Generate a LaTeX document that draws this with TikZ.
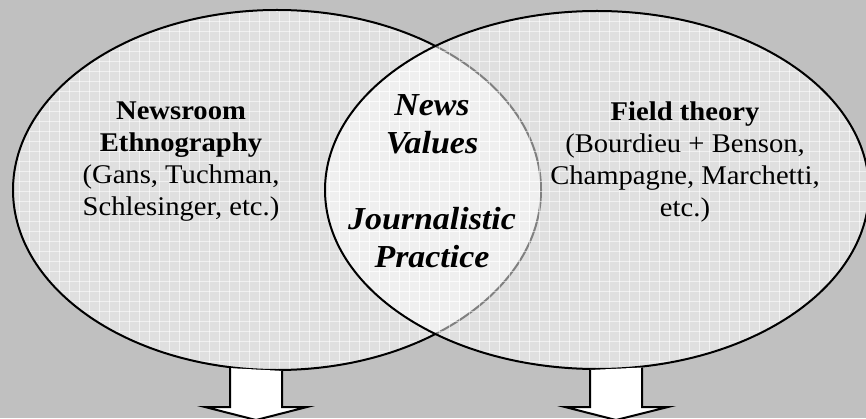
\documentclass[tikz,border=0pt]{standalone}
\usepackage{fontspec}
\setmainfont[FakeStretch=1.06]{Liberation Serif}

\definecolor{backgray}{RGB}{192,192,192}

\tikzset{
  bubblefill/.style={fill=white, fill opacity=0.5},
  bubbleline/.style={draw=black, line width=1pt},
  gridline/.style={white, line width=0.5pt, opacity=0.55},
  blocktext/.style={align=center, inner sep=0pt, font=\fontsize{13.5}{16}\selectfont},
  coretext/.style={align=center, inner sep=0pt, font=\fontsize{16}{19}\selectfont\bfseries\itshape},
  downarrow/.style={draw=black, fill=white, line width=1pt, line join=miter}
}

\newcommand{\bubblegrid}{%
  \foreach \x in {9,19,...,859} \draw[gridline] (\x,0) -- (\x,418);
  \foreach \y in {6.5,16.5,...,416.5} \draw[gridline] (0,\y) -- (866,\y);
}

\begin{document}
\begin{tikzpicture}[x=0.5pt, y=0.5pt]
\fill[backgray] (0,0) rectangle (866,418);
\useasboundingbox (0,0) rectangle (866,418);

% newsroom ethnography
\fill[bubblefill] (277,228) ellipse [x radius=132pt, y radius=90pt];
\begin{scope}
  \clip (277,228) ellipse [x radius=132pt, y radius=90pt];
  \bubblegrid
\end{scope}
\draw[bubbleline] (277,228) ellipse [x radius=132pt, y radius=90pt];

% field theory
\fill[bubblefill] (597,228) ellipse [x radius=136pt, y radius=89.5pt];
\begin{scope}
  \clip (597,228) ellipse [x radius=136pt, y radius=89.5pt];
  \bubblegrid
\end{scope}
\draw[bubbleline] (597,228) ellipse [x radius=136pt, y radius=89.5pt];

\node[blocktext] (ethno) at (181,256.5)
  {\textbf{Newsroom}\\\textbf{Ethnography}\\(Gans, Tuchman,\\Schlesinger, etc.)};
\node[blocktext] (field) at (685,256)
  {\textbf{Field theory}\\(Bourdieu + Benson,\\Champagne, Marchetti,\\etc.)};
\node[coretext] (core) at (432,236.5)
  {News\\Values\\[19pt]Journalistic\\Practice};

% arrows below
\filldraw[downarrow] (230,49.9) -- (230,11) -- (205,11) -- (256,-2) -- (307,11) -- (282,11) -- (282,47.1);
\filldraw[downarrow] (590,48) -- (590,11) -- (565,11) -- (616,-2) -- (668,11) -- (642,11) -- (642,50.5);
\end{tikzpicture}
\end{document}
